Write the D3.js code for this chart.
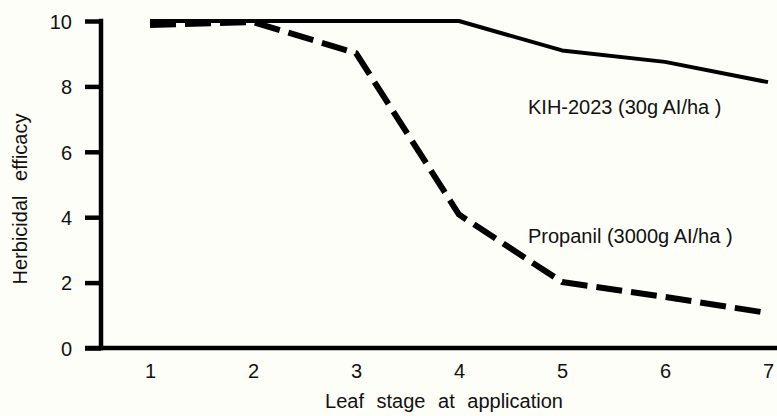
<!DOCTYPE html>
<html>
<head>
<meta charset="utf-8">
<script src="https://cdn.jsdelivr.net/npm/d3@7"></script>
<style>
  html, body { margin: 0; padding: 0; background: #fefef8; }
  svg { display: block; }
  text { font-family: "Liberation Sans", Arial, Helvetica, sans-serif; fill: #111; }
</style>
</head>
<body>
<svg id="chart" width="777" height="416"></svg>
<script>
const leafStages = [1, 2, 3, 4, 5, 6, 7];
const kihValues = [10, 10, 10, 10, 9.1, 8.75, 8.13];
const propanilValues = [9.88, 9.97, 9.02, 4.08, 2.02, 1.56, 1.07];
const yTicks = [0, 2, 4, 6, 8, 10];
const kihLabel = "KIH-2023 (30g AI/ha )";
const propanilLabel = "Propanil (3000g AI/ha )";
const xTitle = "Leaf stage at application";
const yTitle = "Herbicidal efficacy";

const svg = d3.select("#chart");
svg.append("rect").attr("width", 777).attr("height", 416).attr("fill", "#fefef8");

const x = d3.scaleLinear().domain([1, 7]).range([150, 768]);
const y = d3.scaleLinear().domain([0, 10]).range([348, 21]);
const axisX = 101;

// y axis
const yAxis = d3.axisLeft(y).tickValues(yTicks).tickSize(16).tickPadding(13).tickSizeOuter(0);
const gy = svg.append("g").attr("transform", `translate(${axisX},0)`).call(yAxis);
gy.select(".domain").remove();
gy.selectAll(".tick line").attr("stroke", "#000").attr("stroke-width", 4.5);
gy.selectAll(".tick text").attr("font-size", 20).attr("dy", "0.36em").style("fill", "#111");
svg.append("line").attr("x1", axisX).attr("x2", axisX)
  .attr("y1", y(10) - 2.2).attr("y2", y(0) + 2.2)
  .attr("stroke", "#000").attr("stroke-width", 4.5);

// x axis
const xAxis = d3.axisBottom(x).tickValues(leafStages).tickSize(0).tickPadding(16).tickFormat(d3.format("d"));
const gx = svg.append("g").attr("transform", `translate(0,${y(0)})`).call(xAxis);
gx.select(".domain").remove();
gx.selectAll(".tick text").attr("font-size", 20).style("fill", "#111");
svg.append("line").attr("x1", axisX - 16).attr("x2", 777)
  .attr("y1", y(0)).attr("y2", y(0))
  .attr("stroke", "#000").attr("stroke-width", 4.5);

// lines
const kihData = leafStages.map((s, i) => [s, kihValues[i]]);
const propData = leafStages.map((s, i) => [s, propanilValues[i]]);
const line = d3.line().x(d => x(d[0])).y(d => y(d[1]));

svg.append("path").datum(kihData).attr("d", line)
  .attr("fill", "none").attr("stroke", "#000").attr("stroke-width", 4)
  .attr("stroke-linejoin", "round");
svg.append("path").datum(propData).attr("d", line)
  .attr("fill", "none").attr("stroke", "#000").attr("stroke-width", 6)
  .attr("stroke-dasharray", "26,9").attr("stroke-linejoin", "round");

// labels
svg.append("text").attr("x", 528).attr("y", 114).attr("font-size", 20).text(kihLabel);
svg.append("text").attr("x", 528).attr("y", 243).attr("font-size", 20).text(propanilLabel);

svg.append("text").attr("x", 444).attr("y", 408).attr("font-size", 20)
  .attr("text-anchor", "middle").style("word-spacing", "7px").text(xTitle);
svg.append("text").attr("transform", "translate(27,199) rotate(-90)")
  .attr("font-size", 20).attr("text-anchor", "middle").style("word-spacing", "9px").text(yTitle);
</script>
</body>
</html>
